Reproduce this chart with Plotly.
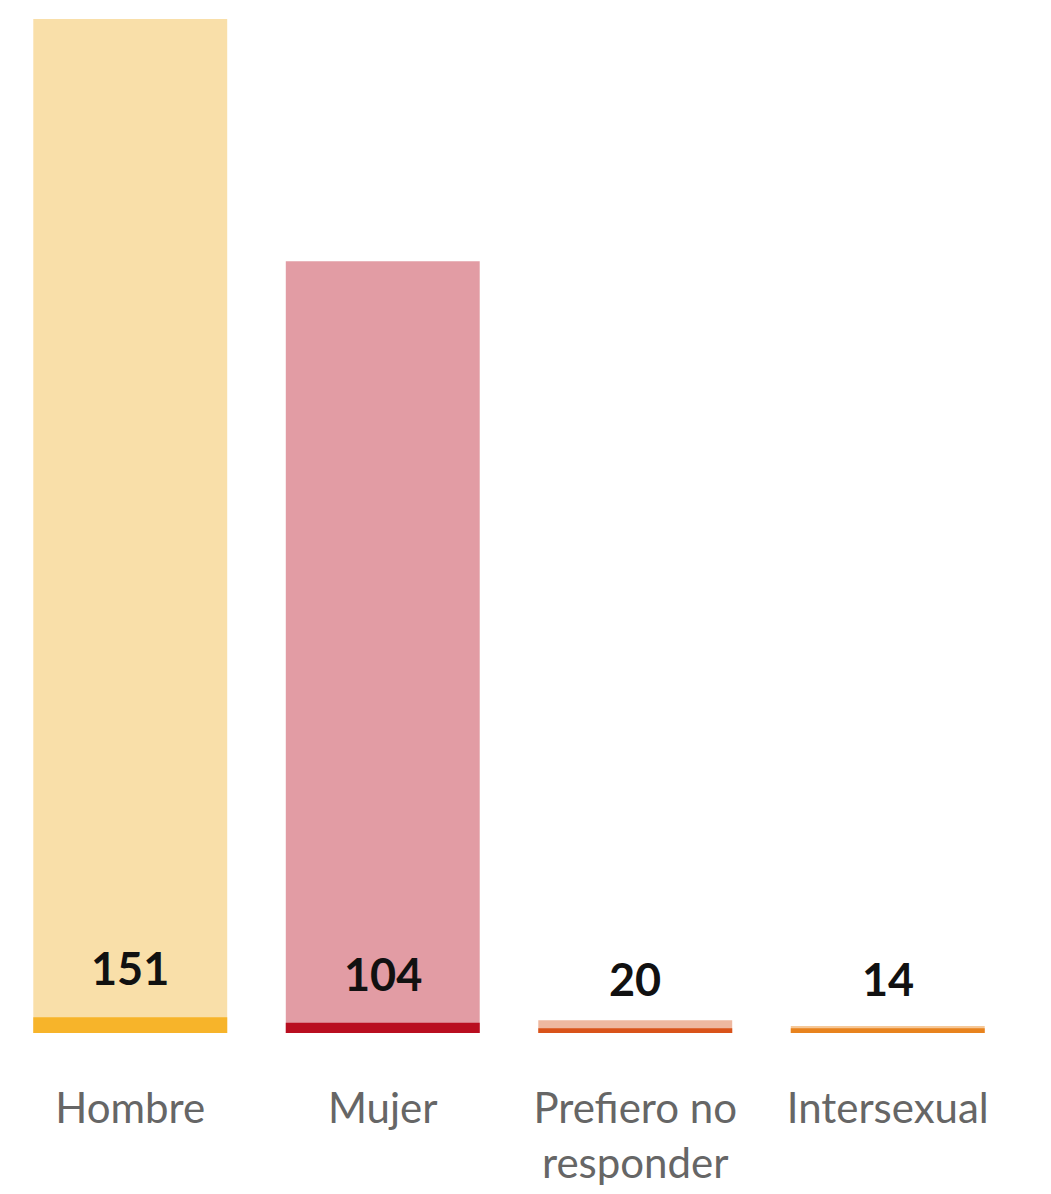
import plotly.graph_objects as go

categories = ["Hombre", "Mujer", "Prefiero no<br>responder", "Intersexual"]
counts = [151, 104, 20, 14]
# bar heights (arbitrary units, max = 100)
light_values = [100, 76.1, 1.25, 0.7]
dark_values = [1.55, 1.02, 0.46, 0.47]

light_colors = ["#F9DFA9", "#E29CA4", "#EEB8A0", "#F5C898"]
dark_colors = ["#F7B42A", "#B90E20", "#D9531A", "#E8831E"]

fig = go.Figure()
fig.add_trace(go.Bar(x=categories, y=light_values, marker=dict(color=light_colors, line=dict(width=0)),
                     hoverinfo="skip", showlegend=False))
fig.add_trace(go.Bar(x=categories, y=dark_values, marker=dict(color=dark_colors, line=dict(width=0)),
                     hoverinfo="skip", showlegend=False))

for c, v, d in zip(categories, counts, dark_values):
    fig.add_annotation(x=c, y=d, text=f"<b>{v}</b>", showarrow=False, yanchor="bottom",
                       yshift=20, font=dict(size=45, color="#111111", family="Lato, Noto Sans, sans-serif"))

fig.update_layout(
    width=1051, height=1194,
    barmode="overlay", bargap=0.232,
    margin=dict(l=4, r=37, t=19, b=161),
    paper_bgcolor="white", plot_bgcolor="white",
    font=dict(family="Lato, Noto Sans, sans-serif"),
    xaxis=dict(showgrid=False, showline=False, ticks="", tickfont=dict(size=42, color="#666666"),
               ticklabelstandoff=47, fixedrange=True),
    yaxis=dict(range=[0, 100], visible=False, showgrid=False, zeroline=False, fixedrange=True),
)

fig.write_html("out.html", config={"displayModeBar": False},
               post_script="document.body.style.margin='0';document.body.style.padding='0';")
